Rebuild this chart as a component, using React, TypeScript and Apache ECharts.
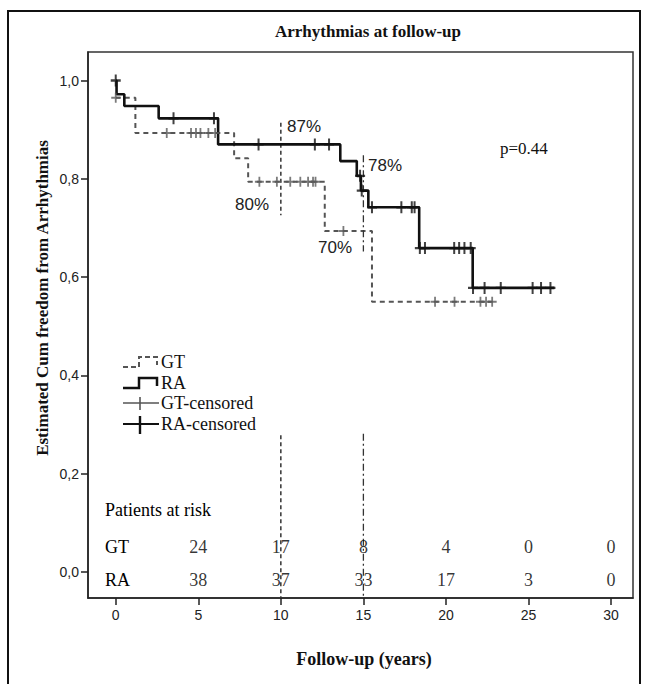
import React, { useEffect, useRef } from "react";
import * as echarts from "echarts";

// ---- data ----
const gtTimes = [0, 1.19, 7.17, 8.02, 12.66, 15.52, 23.0];
const gtSurv = [0.965, 0.893, 0.842, 0.794, 0.694, 0.55, 0.55];
const gtCensored = [0, 3.09, 4.56, 4.86, 5.13, 5.61, 6.02, 8.7, 9.76, 10.57, 11.18, 11.65, 11.95, 12.1, 13.79, 19.34, 20.52, 22.09, 22.43, 22.8];

const raTimes = [0, 0.05, 0.52, 2.6, 6.2, 13.6, 14.6, 14.85, 15.3, 18.38, 21.62, 26.57];
const raSurv = [1.0, 0.972, 0.948, 0.923, 0.87, 0.836, 0.806, 0.776, 0.742, 0.659, 0.578, 0.578];
const raCensored = [0, 3.5, 5.95, 8.65, 12.06, 12.92, 14.8, 14.9, 15.52, 17.3, 17.93, 18.1, 18.42, 18.73, 20.5, 20.8, 21.12, 21.5, 21.64, 22.34, 23.32, 25.25, 25.76, 26.33];

const riskTimes = [5, 10, 15, 20, 25, 30];
const gtAtRisk = [24, 17, 8, 4, 0, 0];
const raAtRisk = [38, 37, 33, 17, 3, 0];

const xTicks = [0, 5, 10, 15, 20, 25, 30];
const yTicks = [0, 0.2, 0.4, 0.6, 0.8, 1.0];

const refLine10Upper = [0.914, 0.726];
const refLine15Upper = [0.848, 0.652];
const refLine10Lower = [0.278];
const refLine15Lower = [0.281];

const X_MIN = -1.68;
const X_MAX = 31.33;
const Y_MIN = -0.053;
const Y_MAX = 1.058;

const SERIF = "'Liberation Serif', 'Times New Roman', serif";
const SANS = "'Liberation Sans', Arial, sans-serif";

function survAt(times: number[], surv: number[], t: number) {
  let v = surv[0];
  for (let i = 0; i < times.length; i++) {
    if (times[i] <= t) v = surv[i];
  }
  return v;
}

const plusPath = "path://M4,0H6V4H10V6H6V10H4V6H0V4H4Z";

export default function App() {
  const ref = useRef<HTMLDivElement>(null);
  useEffect(() => {
    if (!ref.current) return;
    const chart = echarts.init(ref.current, undefined, { renderer: "svg" });

    const gtLine = gtTimes.map((t, i) => [t, gtSurv[i]]);
    const raLine = raTimes.map((t, i) => [t, raSurv[i]]);
    const gtC = gtCensored.map((t) => [t, survAt(gtTimes, gtSurv, t)]);
    const raC = raCensored.map((t) => [t, survAt(raTimes, raSurv, t)]);

    const gtRowY = 0.051;
    const raRowY = -0.016;

    const riskLabel = {
      show: true,
      position: "inside",
      formatter: (p: any) => String(p.value[2]),
      fontFamily: SERIF,
      fontSize: 18,
      color: "#000",
    };

    const option: any = {
      animation: false,
      backgroundColor: "#ffffff",
      grid: {
        left: 88,
        top: 52,
        width: 545,
        height: 546,
        show: true,
        borderColor: "#333",
        borderWidth: 1.5,
        backgroundColor: "transparent",
      },
      xAxis: {
        type: "value",
        min: X_MIN,
        max: X_MAX,
        axisLine: { show: true, onZero: false, lineStyle: { color: "#222", width: 1.5 } },
        splitLine: { show: false },
        axisTick: { show: true, customValues: xTicks, length: 7, lineStyle: { color: "#222", width: 1.5 } },
        axisLabel: {
          customValues: xTicks,
          color: "#222",
          fontFamily: SANS,
          fontSize: 14,
          margin: 10,
        },
      },
      yAxis: {
        type: "value",
        min: Y_MIN,
        max: Y_MAX,
        axisLine: { show: true, onZero: false, lineStyle: { color: "#222", width: 1.5 } },
        splitLine: { show: false },
        axisTick: { show: true, customValues: yTicks, length: 7, lineStyle: { color: "#222", width: 1.5 } },
        axisLabel: {
          customValues: yTicks,
          color: "#222",
          fontFamily: SANS,
          fontSize: 14,
          margin: 9,
          formatter: (v: number) => v.toFixed(1).replace(".", ","),
        },
      },
      series: [
        {
          type: "line",
          name: "GT",
          data: gtLine,
          step: "end",
          showSymbol: false,
          lineStyle: { color: "#555", width: 2, type: [5, 4] },
          z: 3,
        },
        {
          type: "line",
          name: "RA",
          data: raLine,
          step: "end",
          showSymbol: false,
          lineStyle: { color: "#111", width: 2.6 },
          z: 4,
        },
        {
          type: "scatter",
          name: "GT-censored",
          data: gtC,
          symbol: plusPath,
          symbolSize: [9, 10],
          itemStyle: { color: "#5a5a5a" },
          z: 5,
        },
        {
          type: "scatter",
          name: "RA-censored",
          data: raC,
          symbol: plusPath,
          symbolSize: [10, 12],
          itemStyle: { color: "#111" },
          z: 6,
        },
        {
          type: "line",
          data: [[10, refLine10Upper[0]], [10, refLine10Upper[1]]],
          showSymbol: false,
          lineStyle: { color: "#333", width: 1.5, type: [4, 3] },
        },
        {
          type: "line",
          data: [[10, refLine10Lower[0]], [10, Y_MIN]],
          showSymbol: false,
          lineStyle: { color: "#333", width: 1.5, type: [4, 3] },
        },
        {
          type: "line",
          data: [[15, refLine15Upper[0]], [15, refLine15Upper[1]]],
          showSymbol: false,
          lineStyle: { color: "#333", width: 1.3, type: [7, 3, 2, 3] },
        },
        {
          type: "line",
          data: [[15, refLine15Lower[0]], [15, Y_MIN]],
          showSymbol: false,
          lineStyle: { color: "#333", width: 1.3, type: [7, 3, 2, 3] },
        },
        {
          type: "scatter",
          data: riskTimes.map((t, i) => [t, gtRowY, gtAtRisk[i]]),
          symbolSize: 0,
          label: riskLabel,
          z: 7,
        },
        {
          type: "scatter",
          data: riskTimes.map((t, i) => [t, raRowY, raAtRisk[i]]),
          symbolSize: 0,
          label: riskLabel,
          z: 7,
        },
      ],
      graphic: [
        {
          type: "rect",
          shape: { x: 8, y: 11, width: 632, height: 690 },
          style: { fill: "none", stroke: "#111", lineWidth: 2 },
          silent: true,
        },
        {
          type: "text",
          x: 368,
          y: 31,
          style: {
            text: "Arrhythmias at follow-up",
            font: `bold 17px ${SERIF}`,
            fill: "#111",
            textAlign: "center",
            textVerticalAlign: "middle",
          },
        },
        {
          type: "text",
          x: 42,
          y: 298,
          rotation: Math.PI / 2,
          style: {
            text: "Estimated Cum freedom from Arrhythmias",
            font: `bold 17px ${SERIF}`,
            fill: "#111",
            textAlign: "center",
            textVerticalAlign: "middle",
          },
        },
        {
          type: "text",
          x: 364,
          y: 659,
          style: {
            text: "Follow-up (years)",
            font: `bold 18px ${SERIF}`,
            fill: "#111",
            textAlign: "center",
            textVerticalAlign: "middle",
          },
        },
        // percentage annotations
        { type: "text", x: 287, y: 126, style: { text: "87%", font: `17px ${SANS}`, fill: "#222", textVerticalAlign: "middle" } },
        { type: "text", x: 235, y: 204, style: { text: "80%", font: `17px ${SANS}`, fill: "#222", textVerticalAlign: "middle" } },
        { type: "text", x: 368, y: 165, style: { text: "78%", font: `17px ${SANS}`, fill: "#222", textVerticalAlign: "middle" } },
        { type: "text", x: 318, y: 247, style: { text: "70%", font: `17px ${SANS}`, fill: "#222", textVerticalAlign: "middle" } },
        { type: "text", x: 500, y: 148, style: { text: "p=0.44", font: `17px ${SERIF}`, fill: "#111", textVerticalAlign: "middle" } },
        // legend
        {
          type: "polyline",
          shape: { points: [[123, 367], [139, 367], [139, 357], [157, 357], [157, 365]] },
          style: { stroke: "#555", lineWidth: 2, lineDash: [5, 3], fill: "none" },
        },
        { type: "text", x: 161, y: 362, style: { text: "GT", font: `18px ${SERIF}`, fill: "#111", textVerticalAlign: "middle" } },
        {
          type: "polyline",
          shape: { points: [[123, 388], [139, 388], [139, 378], [157, 378], [157, 386]] },
          style: { stroke: "#111", lineWidth: 2.5, fill: "none" },
        },
        { type: "text", x: 161, y: 383, style: { text: "RA", font: `18px ${SERIF}`, fill: "#111", textVerticalAlign: "middle" } },
        { type: "line", shape: { x1: 123, y1: 403, x2: 159, y2: 403 }, style: { stroke: "#555", lineWidth: 1.6 } },
        { type: "line", shape: { x1: 140, y1: 397, x2: 140, y2: 410 }, style: { stroke: "#555", lineWidth: 1.6 } },
        { type: "text", x: 161, y: 403, style: { text: "GT-censored", font: `18px ${SERIF}`, fill: "#111", textVerticalAlign: "middle" } },
        { type: "line", shape: { x1: 123, y1: 424, x2: 159, y2: 424 }, style: { stroke: "#111", lineWidth: 2.2 } },
        { type: "line", shape: { x1: 140, y1: 416, x2: 140, y2: 434 }, style: { stroke: "#111", lineWidth: 2.4 } },
        { type: "text", x: 161, y: 424, style: { text: "RA-censored", font: `18px ${SERIF}`, fill: "#111", textVerticalAlign: "middle" } },
        // risk table labels
        { type: "text", x: 105, y: 510, style: { text: "Patients at risk", font: `18px ${SERIF}`, fill: "#000", textVerticalAlign: "middle" } },
        { type: "text", x: 105, y: 547, style: { text: "GT", font: `18px ${SERIF}`, fill: "#000", textVerticalAlign: "middle" } },
        { type: "text", x: 105, y: 580, style: { text: "RA", font: `18px ${SERIF}`, fill: "#000", textVerticalAlign: "middle" } },
      ],
    };
    chart.setOption(option);
    return () => chart.dispose();
  }, []);
  return <div ref={ref} style={{ width: 647, height: 684, position: "absolute", left: 0, top: 0 }} />;
}
